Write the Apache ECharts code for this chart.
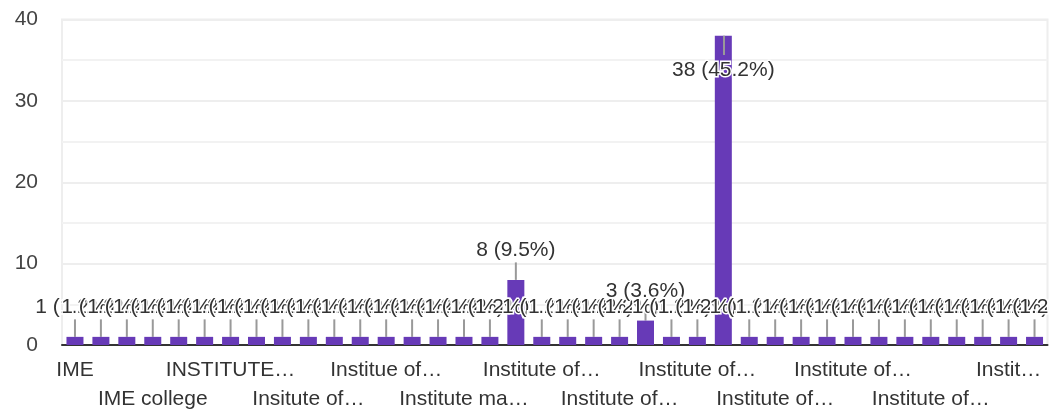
<!DOCTYPE html>
<html>
<head>
<meta charset="utf-8">
<script src="https://cdn.jsdelivr.net/npm/echarts@6/dist/echarts.min.js"></script>
<style>
	html, body { margin: 0; padding: 0; background: #fff; }
	#chart { width: 1049px; height: 412px; }
</style>
</head>
<body>
<div id="chart"></div>
<script>
	// categories (only every third one is printed on the axis)
	var categories = [
		'IME', 'IME Ghaziabad', 'IME Sahibabad',
		'IME college', 'IME college Ghaziabad', 'IME Ghaziabad college',
		'INSTITUTE…', 'INSTITUTE OF MANAGEMENT', 'Insitute',
		'Insitute of…', 'Insitute of management', 'Institue',
		'Institue of…', 'Institue of management', 'Institute',
		'Institute ma…', 'Institute management', 'Institute of…',
		'Institute of… ', 'Institute of M', 'Institute of Man',
		'Institute of…  ', 'Institute of Mana', 'Institute of Manag',
		'Institute of…   ', 'Institute of Management', 'Institute of Management E',
		'Institute of…    ', 'Institute of Management Ed', 'Institute of Management Edu',
		'Institute of…     ', 'Institute of Management Educ', 'Institute of Management Educa',
		'Institute of…      ', 'Institute of Management Educat', 'Institute of Management Educati',
		'Instit…', 'Institute of Management Education'
	];

	// responses per category
	var counts = [
		1, 1, 1, 1, 1, 1, 1, 1, 1, 1,
		1, 1, 1, 1, 1, 1, 1, 8, 1, 1,
		1, 1, 3, 1, 1, 38, 1, 1, 1, 1,
		1, 1, 1, 1, 1, 1, 1, 1
	];

	var yTicks = [0, 10, 20, 30, 40];

	var total = counts.reduce(function(a, b) { return a + b; }, 0);
	var maxVal = Math.max.apply(null, counts);
	var maxIdx = counts.indexOf(maxVal);

	var font = 'Liberation Sans, Arial, sans-serif';

	var barData = counts.map(function(v, i) {
		if (i === maxIdx) {
			return {
				value: v,
				label: { position: 'insideTop', distance: 24 },
				labelLine: { show: false }
			};
		}
		return v;
	});

	var chart = echarts.init(document.getElementById('chart'));
	chart.setOption({
		animation: false,
		grid: {
			left: 62,
			right: 1.5,
			top: 19.5,
			bottom: 67,
			outerBoundsMode: 'none',
			show: true,
			borderColor: '#eeeeee',
			borderWidth: 2
		},
		xAxis: {
			type: 'category',
			data: categories,
			axisLine: { lineStyle: { color: '#333', width: 2 } },
			axisTick: { show: false },
			axisLabel: {
				interval: 2,
				showMinLabel: true,
				showMaxLabel: true,
				margin: 11,
				color: '#333',
				fontFamily: font,
				fontSize: 21,
				lineHeight: 28.5,
				formatter: function(value, index) {
					if (index % 3 !== 0) return '';
					var name = value.replace(/\s+$/, '');
					return (index / 3) % 2 === 1 ? '\n' + name : name;
				}
			}
		},
		yAxis: {
			type: 'value',
			min: yTicks[0],
			max: yTicks[yTicks.length - 1],
			interval: 10,
			axisLine: { show: false },
			axisTick: { show: false },
			axisLabel: {
				margin: 24,
				color: '#444',
				fontFamily: font,
				fontSize: 21
			},
			splitLine: { lineStyle: { color: '#eeeeee', width: 2 } },
			minorTick: { show: false, splitNumber: 2 },
			minorSplitLine: { show: true, lineStyle: { color: '#f2f2f2', width: 2 } }
		},
		series: [{
			type: 'bar',
			data: barData,
			barWidth: 17,
			itemStyle: { color: '#673ab7' },
			label: {
				show: true,
				position: 'top',
				distance: 5,
				color: '#333',
				fontFamily: font,
				fontSize: 21,
				lineHeight: 21,
				textBorderColor: '#fff',
				textBorderWidth: 3,
				formatter: function(p) {
					return p.value + ' (' + (p.value / total * 100).toFixed(1) + '%)';
				}
			},
			labelLine: {
				show: true,
				lineStyle: { color: '#999', width: 2 }
			},
			labelLayout: function(params) {
				if (params.dataIndex === maxIdx) return {};
				return { dy: -14 };
			},
			markLine: {
				silent: true,
				symbol: 'none',
				label: { show: false },
				lineStyle: { color: '#999', width: 2, type: 'solid' },
				data: [[
					{ coord: [categories[maxIdx], maxVal] },
					{ coord: [categories[maxIdx], maxVal - 2.35] }
				]]
			}
		}]
	});
</script>
</body>
</html>
